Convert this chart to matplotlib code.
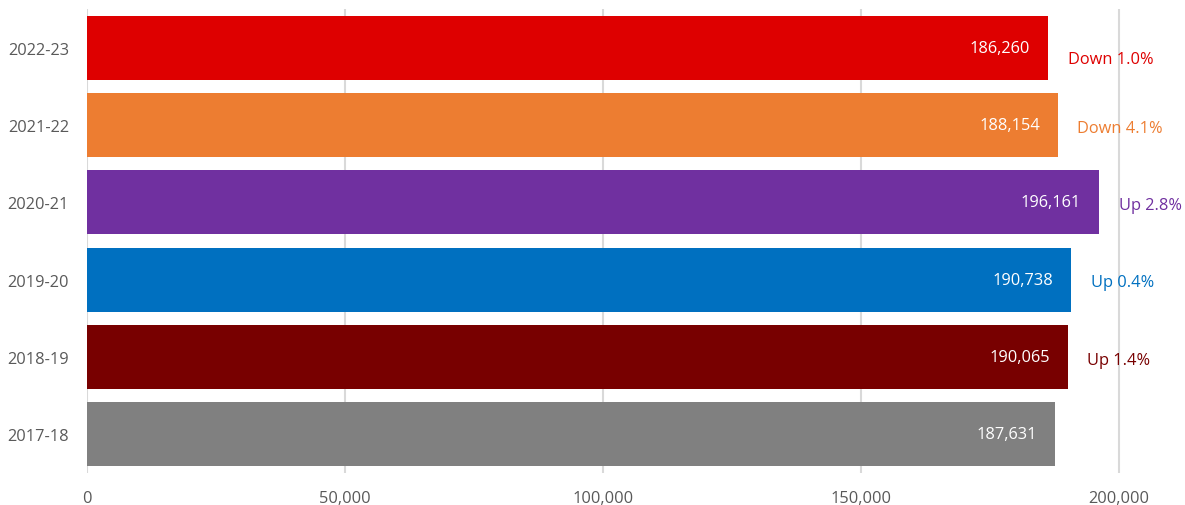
import matplotlib.pyplot as plt
from matplotlib.ticker import FuncFormatter

years = ["2017-18", "2018-19", "2019-20", "2020-21", "2021-22", "2022-23"]
totals = [187631, 190065, 190738, 196161, 188154, 186260]
changes = ["", "Up 1.4%", "Up 0.4%", "Up 2.8%", "Down 4.1%", "Down 1.0%"]
bar_colors = ["#808080", "#780000", "#0070C0", "#7030A0", "#ED7D31", "#DE0000"]

plt.rcParams['font.family'] = ['Open Sans', 'DejaVu Sans']

W, H = 1185, 506
fig = plt.figure(figsize=(W / 100, H / 100), dpi=100)
ax = fig.add_axes([87 / W, 1 - 474 / H, (1181 - 87) / W, (474 - 10) / H])

ypos = list(range(len(years)))
ax.barh(ypos, totals, height=0.83, color=bar_colors, zorder=2)
ax.set_ylim(-0.5, len(years) - 0.5)
ax.set_xlim(0, 212000)

fs = 11.8
for y, v, c, col in zip(ypos, totals, changes, bar_colors):
    ax.annotate(f"{v:,}", (v, y), xytext=(-13, 0), textcoords="offset points",
                ha="right", va="center", color="white", fontsize=fs)
    if c:
        dy = -8 if y == len(years) - 1 else -2
        ax.annotate(c, (v, y), xytext=(14, dy), textcoords="offset points",
                    ha="left", va="center", color=col, fontsize=fs,
                    annotation_clip=False)

ax.set_yticks(ypos)
ax.set_yticklabels(years)
ax.set_xticks([0, 50000, 100000, 150000, 200000])
ax.xaxis.set_major_formatter(FuncFormatter(lambda x, p: f"{int(x):,}"))
ax.tick_params(axis="both", length=0, labelsize=fs, labelcolor="#595959")
ax.tick_params(axis="x", pad=12)
ax.tick_params(axis="y", pad=13)
ax.grid(axis="x", color="#D9D9D9", linewidth=1.5, zorder=0)
for s in ax.spines.values():
    s.set_visible(False)

fig.savefig("out.png", dpi=100)
